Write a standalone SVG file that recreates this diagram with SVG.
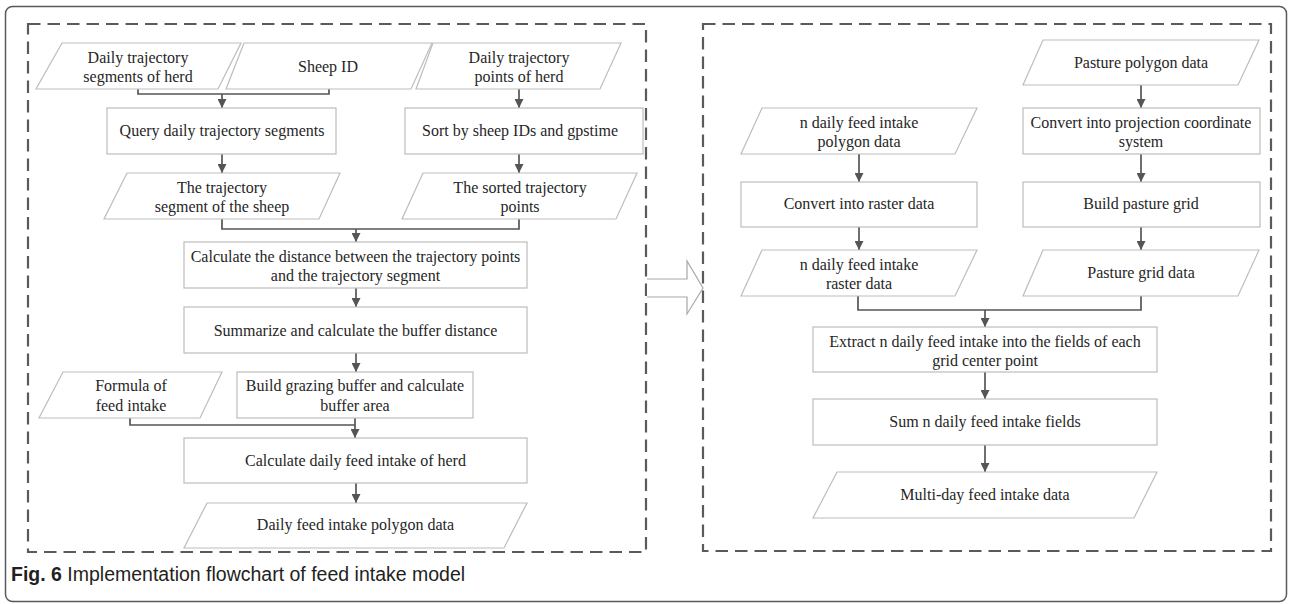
<svg xmlns="http://www.w3.org/2000/svg" width="1289" height="604" viewBox="0 0 1289 604">
<defs>
<style>
.frame{fill:none;stroke:#5a5a5a;stroke-width:1.5}
.dash{fill:none;stroke:#5a5a5a;stroke-width:2.2;stroke-dasharray:12.5 7}
.node{fill:#fff;stroke:#bdbdbd;stroke-width:1.2}
.t{font-family:"Liberation Serif","Times New Roman",serif;font-size:16px;fill:#262626;text-anchor:middle}
.c{fill:none;stroke:#555;stroke-width:1.7}
.a{fill:none;stroke:#555;stroke-width:1.7;marker-end:url(#ah)}
.cap{font-family:"Liberation Sans",Arial,sans-serif;font-size:19.5px;fill:#231f20}
</style>
<marker id="ah" markerUnits="userSpaceOnUse" markerWidth="9" markerHeight="9" viewBox="0 0 9 9" refX="9" refY="4.5" orient="auto">
<path d="M0,0 L9,4.5 L0,9 z" fill="#555"/>
</marker>
</defs>
<rect x="5.5" y="6.5" width="1281" height="595" rx="7" class="frame"/>
<rect x="28" y="24" width="618" height="528" class="dash"/>
<rect x="703" y="24" width="568" height="527" class="dash"/>
<path d="M647,279 H687 V261 L703,288 L687,314 V297 H647" fill="#fff" stroke="#a8a8a8" stroke-width="1.2"/>

<g id="connectors">
<path class="c" d="M138,89 V94 H329 V89"/>
<path class="a" d="M222,94 V108"/>
<path class="a" d="M519,89 V108"/>
<path class="a" d="M222,154 V173"/>
<path class="a" d="M519,154 V173"/>
<path class="c" d="M222,219 V229 H519 V219"/>
<path class="a" d="M356,229 V242"/>
<path class="a" d="M356,288 V307"/>
<path class="a" d="M356,353 V372"/>
<path class="c" d="M130,418 V425 H355"/>
<path class="a" d="M355,418 V438"/>
<path class="a" d="M356,483 V503"/>
<path class="a" d="M859,154 V182"/>
<path class="a" d="M859,227 V250"/>
<path class="a" d="M1141,85 V108"/>
<path class="a" d="M1141,154 V182"/>
<path class="a" d="M1141,227 V250"/>
<path class="c" d="M858,296 V310 H1141 V296"/>
<path class="a" d="M985,310 V327"/>
<path class="a" d="M985,372 V399"/>
<path class="a" d="M985,445 V472"/>
</g>

<g id="n1"><polygon class="node" points="62,43 241,43 218,89 36,89"/><text class="t" x="138" y="63">Daily trajectory</text><text class="t" x="138" y="82">segments of herd</text></g>
<g id="n2"><polygon class="node" points="244,43 432,43 411,89 226,89"/><text class="t" x="328" y="72">Sheep ID</text></g>
<g id="n3"><polygon class="node" points="433,43 621,43 600,89 416,89"/><text class="t" x="519" y="63">Daily trajectory</text><text class="t" x="519" y="82">points of herd</text></g>
<g id="n4"><rect class="node" x="107" y="108" width="229" height="46"/><text class="t" x="222" y="136">Query daily trajectory segments</text></g>
<g id="n5"><rect class="node" x="405" y="108" width="238" height="46"/><text class="t" x="520" y="136">Sort by sheep IDs and gpstime</text></g>
<g id="n6"><polygon class="node" points="127,173 340,173 319,219 104,219"/><text class="t" x="222" y="193">The trajectory</text><text class="t" x="222" y="212">segment of the sheep</text></g>
<g id="n7"><polygon class="node" points="423,173 637,173 616,219 402,219"/><text class="t" x="520" y="193">The sorted trajectory</text><text class="t" x="520" y="212">points</text></g>
<g id="n8"><rect class="node" x="184" y="242" width="343" height="46"/><text class="t" x="355.5" y="262">Calculate the distance between the trajectory points</text><text class="t" x="355.5" y="281">and the trajectory segment</text></g>
<g id="n9"><rect class="node" x="184" y="307" width="343" height="46"/><text class="t" x="355.5" y="336">Summarize and calculate the buffer distance</text></g>
<g id="n10"><polygon class="node" points="63,372 222,372 200,418 39,418"/><text class="t" x="131" y="391">Formula of</text><text class="t" x="131" y="411">feed intake</text></g>
<g id="n11"><rect class="node" x="237" y="372" width="236" height="46"/><text class="t" x="355" y="391">Build grazing buffer and calculate</text><text class="t" x="355" y="411">buffer area</text></g>
<g id="n12"><rect class="node" x="184" y="438" width="343" height="45"/><text class="t" x="355.5" y="466">Calculate daily feed intake of herd</text></g>
<g id="n13"><polygon class="node" points="207,503 527,503 504,548 184,548"/><text class="t" x="355.5" y="530">Daily feed intake polygon data</text></g>

<g id="r1"><polygon class="node" points="762,108 977,108 955,154 741,154"/><text class="t" x="859" y="128">n daily feed intake</text><text class="t" x="859" y="147">polygon data</text></g>
<g id="r2"><rect class="node" x="741" y="182" width="236" height="45"/><text class="t" x="859" y="209">Convert into raster data</text></g>
<g id="r3"><polygon class="node" points="762,250 977,250 955,296 741,296"/><text class="t" x="859" y="270">n daily feed intake</text><text class="t" x="859" y="289">raster data</text></g>
<g id="q1"><polygon class="node" points="1043,40 1259,40 1238,85 1023,85"/><text class="t" x="1141" y="68">Pasture polygon data</text></g>
<g id="q2"><rect class="node" x="1023" y="108" width="237" height="46"/><text class="t" x="1141" y="128">Convert into projection coordinate</text><text class="t" x="1141" y="147">system</text></g>
<g id="q3"><rect class="node" x="1023" y="182" width="237" height="45"/><text class="t" x="1141" y="209">Build pasture grid</text></g>
<g id="q4"><polygon class="node" points="1043,250 1259,250 1238,296 1023,296"/><text class="t" x="1141" y="278">Pasture grid data</text></g>
<g id="e1"><rect class="node" x="813" y="327" width="344" height="45"/><text class="t" x="985" y="347">Extract n daily feed intake into the fields of each</text><text class="t" x="985" y="366">grid center point</text></g>
<g id="e2"><rect class="node" x="813" y="399" width="344" height="46"/><text class="t" x="985" y="427">Sum n daily feed intake fields</text></g>
<g id="e3"><polygon class="node" points="837,472 1157,472 1134,518 813,518"/><text class="t" x="985" y="500">Multi-day feed intake data</text></g>

<text class="cap" x="11" y="581"><tspan font-weight="bold">Fig. 6</tspan> Implementation flowchart of feed intake model</text>
</svg>
